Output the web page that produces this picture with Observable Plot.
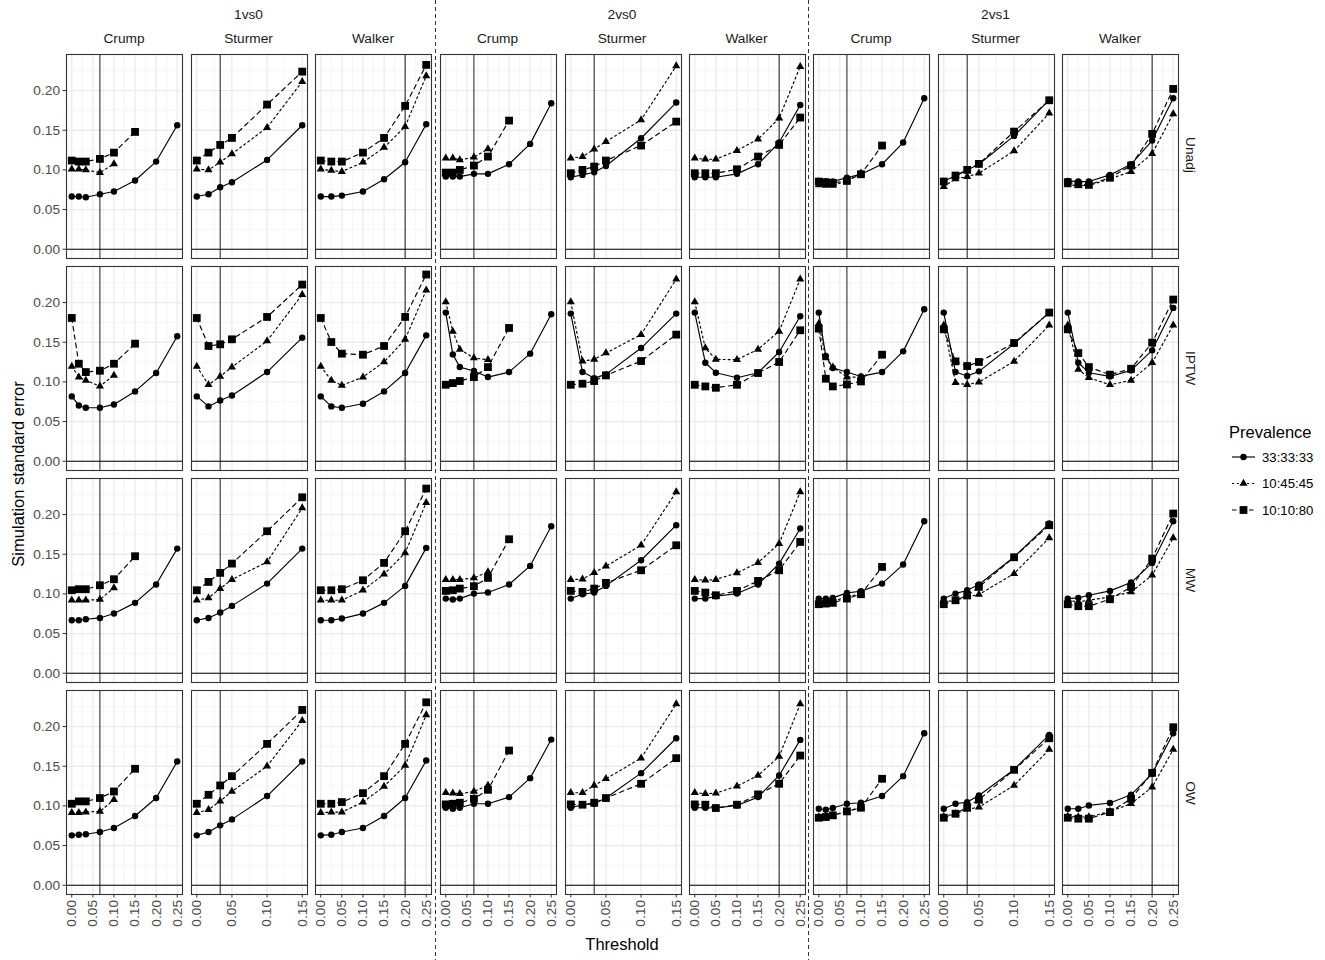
<!DOCTYPE html>
<html><head><meta charset="utf-8">
<script src="https://cdn.jsdelivr.net/npm/d3@7"></script>
<script src="https://cdn.jsdelivr.net/npm/@observablehq/plot@0.6"></script>
<style>
body{margin:0;background:#fff;font-family:"Liberation Sans",Arial,sans-serif;}
#chart{position:relative;width:1325px;height:960px;overflow:hidden;background:#fff}
#chart svg{overflow:visible}
</style></head><body><div id="chart"></div>
<script>
// ---------- categories ----------
const weights = ["Unadj", "IPTW", "MW", "OW"];
const groups = ["1vs0", "2vs0", "2vs1"];
const methods = ["Crump", "Sturmer", "Walker"];
const prevalences = ["33:33:33", "10:45:45", "10:10:80"];
const thresholdsCrump = [0, 0.0167, 0.0333, 0.0667, 0.10, 0.15, 0.20, 0.25];
const thresholdsSturmer = [0, 0.0167, 0.0333, 0.05, 0.10, 0.15];
const thresholdsWalker = [0, 0.025, 0.05, 0.10, 0.15, 0.20, 0.25];
const cutoffs = [0.0667, 0.0333, 0.20]; // Crump, Sturmer, Walker
const ticksWide = [0, 0.05, 0.10, 0.15, 0.20, 0.25];
const ticksNarrow = [0, 0.05, 0.10, 0.15];
const ticksY = [0, 0.05, 0.10, 0.15, 0.20];

// ---------- values: [33:33:33, 10:45:45, 10:10:80] ----------
const U_1vs0_Crump = [[0.0664,0.0664,0.0655,0.0693,0.0727,0.0866,0.1105,0.1563],[0.1008,0.1008,0.1000,0.0966,0.1076],[0.1118,0.1105,0.1105,0.1139,0.1218,0.1479]];
const U_1vs0_Sturmer = [[0.0664,0.0693,0.0782,0.0845,0.1126,0.1563],[0.1008,0.1000,0.1097,0.1202,0.1534,0.2113],[0.1118,0.1218,0.1315,0.1403,0.1824,0.2239]];
const U_1vs0_Walker = [[0.0664,0.0664,0.0676,0.0727,0.0882,0.1097,0.1576],[0.1008,0.0992,0.0979,0.1097,0.1282,0.1546,0.2185],[0.1118,0.1105,0.1105,0.1218,0.1403,0.1807,0.2324]];
const U_2vs0_Crump = [[0.0916,0.0916,0.0916,0.0950,0.0950,0.1071,0.1328,0.1840],[0.1147,0.1147,0.1126,0.1160,0.1265],[0.0966,0.0966,0.1000,0.1055,0.1168,0.1622]];
const U_2vs0_Sturmer = [[0.0908,0.0937,0.0971,0.1050,0.1399,0.1849],[0.1147,0.1168,0.1261,0.1357,0.1630,0.2311],[0.0958,0.1000,0.1042,0.1118,0.1307,0.1609]];
const U_2vs0_Walker = [[0.0908,0.0908,0.0908,0.0950,0.1071,0.1345,0.1819],[0.1147,0.1134,0.1134,0.1244,0.1387,0.1651,0.2303],[0.0958,0.0958,0.0958,0.1008,0.1168,0.1315,0.1660]];
const U_2vs1_Crump = [[0.0861,0.0853,0.0853,0.0903,0.0945,0.1071,0.1345,0.1903],[0.0811,0.0803,0.0803,0.0861,0.0958],[0.0853,0.0845,0.0836,0.0861,0.0945,0.1307]];
const U_2vs1_Sturmer = [[0.0861,0.0924,0.1000,0.1071,0.1429,0.1882],[0.0790,0.0887,0.0916,0.0958,0.1239,0.1714],[0.0853,0.0929,0.1000,0.1076,0.1483,0.1878]];
const U_2vs1_Walker = [[0.0861,0.0853,0.0853,0.0937,0.1071,0.1370,0.1903],[0.0811,0.0803,0.0803,0.0887,0.0979,0.1206,0.1706],[0.0845,0.0819,0.0811,0.0903,0.1055,0.1454,0.2021]];

const I_1vs0_Crump = [[0.0817,0.0703,0.0674,0.0674,0.0716,0.0880,0.1112,0.1575],[0.1196,0.1061,0.1019,0.0947,0.1082],[0.1806,0.1229,0.1124,0.1141,0.1229,0.1482]];
const I_1vs0_Sturmer = [[0.0817,0.0691,0.0766,0.0829,0.1124,0.1558],[0.1196,0.0964,0.1069,0.1187,0.1516,0.2101],[0.1806,0.1453,0.1474,0.1537,0.1819,0.2227]];
const I_1vs0_Walker = [[0.0817,0.0691,0.0674,0.0724,0.0880,0.1112,0.1587],[0.1196,0.1019,0.0956,0.1061,0.1251,0.1537,0.2156],[0.1806,0.1503,0.1356,0.1343,0.1453,0.1819,0.2354]];
const I_2vs0_Crump = [[0.1874,0.1347,0.1187,0.1137,0.1061,0.1124,0.1356,0.1853],[0.2008,0.1638,0.1411,0.1301,0.1280],[0.0964,0.0985,0.1011,0.1061,0.1187,0.1680]];
const I_2vs0_Sturmer = [[0.1861,0.1124,0.1048,0.1095,0.1427,0.1861],[0.2008,0.1263,0.1284,0.1364,0.1596,0.2295],[0.0964,0.0977,0.1011,0.1082,0.1263,0.1596]];
const I_2vs0_Walker = [[0.1874,0.1242,0.1116,0.1053,0.1116,0.1377,0.1827],[0.2008,0.1427,0.1284,0.1280,0.1411,0.1638,0.2295],[0.0964,0.0943,0.0926,0.0964,0.1112,0.1251,0.1651]];
const I_2vs1_Crump = [[0.1874,0.1326,0.1175,0.1124,0.1069,0.1124,0.1385,0.1916],[0.1735,0.1301,0.1187,0.1061,0.1061],[0.1672,0.1040,0.0943,0.0968,0.1006,0.1343]];
const I_2vs1_Sturmer = [[0.1874,0.1124,0.1074,0.1133,0.1482,0.1874],[0.1714,0.0989,0.0964,0.0998,0.1259,0.1714],[0.1663,0.1259,0.1200,0.1251,0.1491,0.1874]];
const I_2vs1_Walker = [[0.1874,0.1242,0.1116,0.1069,0.1145,0.1398,0.1933],[0.1714,0.1158,0.1053,0.0964,0.1019,0.1242,0.1714],[0.1663,0.1364,0.1187,0.1091,0.1166,0.1495,0.2038]];

const M_1vs0_Crump = [[0.0668,0.0668,0.0681,0.0697,0.0752,0.0887,0.1118,0.1571],[0.0920,0.0920,0.0920,0.0929,0.1076],[0.1046,0.1059,0.1059,0.1109,0.1185,0.1475]];
const M_1vs0_Sturmer = [[0.0668,0.0697,0.0765,0.0849,0.1130,0.1571],[0.0920,0.0950,0.1067,0.1181,0.1403,0.2084],[0.1046,0.1151,0.1265,0.1382,0.1790,0.2218]];
const M_1vs0_Walker = [[0.0668,0.0668,0.0689,0.0752,0.0887,0.1101,0.1580],[0.0920,0.0920,0.0920,0.1046,0.1248,0.1517,0.2151],[0.1046,0.1046,0.1059,0.1172,0.1391,0.1790,0.2328]];
const M_2vs0_Crump = [[0.0941,0.0929,0.0941,0.1004,0.1017,0.1118,0.1353,0.1853],[0.1181,0.1181,0.1181,0.1202,0.1277],[0.1038,0.1046,0.1067,0.1097,0.1202,0.1689]];
const M_2vs0_Sturmer = [[0.0941,0.0996,0.1017,0.1101,0.1424,0.1866],[0.1181,0.1185,0.1269,0.1349,0.1613,0.2286],[0.1038,0.1025,0.1067,0.1139,0.1298,0.1613]];
const M_2vs0_Walker = [[0.0941,0.0941,0.0971,0.1004,0.1118,0.1382,0.1824],[0.1181,0.1172,0.1181,0.1265,0.1395,0.1634,0.2286],[0.1038,0.1017,0.0983,0.1038,0.1164,0.1298,0.1655]];
const M_2vs1_Crump = [[0.0941,0.0941,0.0950,0.1013,0.1034,0.1130,0.1370,0.1916],[0.0908,0.0899,0.0908,0.0962,0.1004],[0.0870,0.0878,0.0887,0.0941,0.0996,0.1340]];
const M_2vs1_Sturmer = [[0.0941,0.1004,0.1046,0.1118,0.1466,0.1887],[0.0899,0.0920,0.0962,0.0992,0.1256,0.1706],[0.0870,0.0920,0.0983,0.1088,0.1462,0.1866]];
const M_2vs1_Walker = [[0.0941,0.0950,0.0983,0.1038,0.1143,0.1391,0.1916],[0.0920,0.0899,0.0920,0.0962,0.1025,0.1235,0.1706],[0.0870,0.0845,0.0845,0.0933,0.1088,0.1445,0.2013]];

const O_1vs0_Crump = [[0.0629,0.0637,0.0642,0.0671,0.0721,0.0872,0.1099,0.1560],[0.0914,0.0914,0.0922,0.0931,0.1078],[0.1027,0.1057,0.1057,0.1099,0.1182,0.1468]];
const O_1vs0_Sturmer = [[0.0629,0.0671,0.0755,0.0830,0.1124,0.1560],[0.0914,0.0952,0.1061,0.1182,0.1501,0.2075],[0.1027,0.1140,0.1258,0.1375,0.1782,0.2210]];
const O_1vs0_Walker = [[0.0629,0.0637,0.0671,0.0721,0.0872,0.1099,0.1572],[0.0914,0.0922,0.0922,0.1048,0.1245,0.1509,0.2147],[0.1027,0.1027,0.1048,0.1161,0.1375,0.1782,0.2306]];
const O_2vs0_Crump = [[0.0977,0.0964,0.0977,0.1027,0.1027,0.1111,0.1350,0.1836],[0.1166,0.1161,0.1153,0.1182,0.1258],[0.1019,0.1027,0.1040,0.1090,0.1203,0.1698]];
const O_2vs0_Sturmer = [[0.0977,0.1015,0.1027,0.1099,0.1413,0.1853],[0.1166,0.1166,0.1258,0.1342,0.1602,0.2285],[0.1019,0.1015,0.1040,0.1099,0.1279,0.1602]];
const O_2vs0_Walker = [[0.0977,0.0977,0.0973,0.1006,0.1111,0.1384,0.1832],[0.1166,0.1153,0.1161,0.1249,0.1384,0.1623,0.2285],[0.1019,0.1015,0.0973,0.1015,0.1145,0.1279,0.1635]];
const O_2vs1_Crump = [[0.0964,0.0952,0.0973,0.1027,0.1040,0.1124,0.1375,0.1916],[0.0860,0.0868,0.0881,0.0931,0.0985],[0.0851,0.0860,0.0881,0.0931,0.0977,0.1342]];
const O_2vs1_Sturmer = [[0.0964,0.1027,0.1048,0.1132,0.1459,0.1895],[0.0868,0.0901,0.0956,0.0985,0.1258,0.1711],[0.0851,0.0901,0.0985,0.1078,0.1455,0.1853]];
const O_2vs1_Walker = [[0.0964,0.0964,0.1006,0.1036,0.1140,0.1405,0.1916],[0.0868,0.0860,0.0860,0.0931,0.1027,0.1237,0.1711],[0.0851,0.0839,0.0839,0.0922,0.1090,0.1417,0.1992]];

// ---------- assemble ----------
const tables = [
  ["Unadj","1vs0","Crump",U_1vs0_Crump],["Unadj","1vs0","Sturmer",U_1vs0_Sturmer],["Unadj","1vs0","Walker",U_1vs0_Walker],
  ["Unadj","2vs0","Crump",U_2vs0_Crump],["Unadj","2vs0","Sturmer",U_2vs0_Sturmer],["Unadj","2vs0","Walker",U_2vs0_Walker],
  ["Unadj","2vs1","Crump",U_2vs1_Crump],["Unadj","2vs1","Sturmer",U_2vs1_Sturmer],["Unadj","2vs1","Walker",U_2vs1_Walker],
  ["IPTW","1vs0","Crump",I_1vs0_Crump],["IPTW","1vs0","Sturmer",I_1vs0_Sturmer],["IPTW","1vs0","Walker",I_1vs0_Walker],
  ["IPTW","2vs0","Crump",I_2vs0_Crump],["IPTW","2vs0","Sturmer",I_2vs0_Sturmer],["IPTW","2vs0","Walker",I_2vs0_Walker],
  ["IPTW","2vs1","Crump",I_2vs1_Crump],["IPTW","2vs1","Sturmer",I_2vs1_Sturmer],["IPTW","2vs1","Walker",I_2vs1_Walker],
  ["MW","1vs0","Crump",M_1vs0_Crump],["MW","1vs0","Sturmer",M_1vs0_Sturmer],["MW","1vs0","Walker",M_1vs0_Walker],
  ["MW","2vs0","Crump",M_2vs0_Crump],["MW","2vs0","Sturmer",M_2vs0_Sturmer],["MW","2vs0","Walker",M_2vs0_Walker],
  ["MW","2vs1","Crump",M_2vs1_Crump],["MW","2vs1","Sturmer",M_2vs1_Sturmer],["MW","2vs1","Walker",M_2vs1_Walker],
  ["OW","1vs0","Crump",O_1vs0_Crump],["OW","1vs0","Sturmer",O_1vs0_Sturmer],["OW","1vs0","Walker",O_1vs0_Walker],
  ["OW","2vs0","Crump",O_2vs0_Crump],["OW","2vs0","Sturmer",O_2vs0_Sturmer],["OW","2vs0","Walker",O_2vs0_Walker],
  ["OW","2vs1","Crump",O_2vs1_Crump],["OW","2vs1","Sturmer",O_2vs1_Sturmer],["OW","2vs1","Walker",O_2vs1_Walker]
];
const thresholds = {Crump: thresholdsCrump, Sturmer: thresholdsSturmer, Walker: thresholdsWalker};
const records = [];
for (const [w, g, m, arrs] of tables) {
  arrs.forEach((vals, k) => vals.forEach((v, i) => records.push({weight: w, group: g, method: m, prev: prevalences[k], x: thresholds[m][i], y: v})));
}

// ---------- layout ----------
const chart = document.getElementById("chart");
const W = 1325, H = 960;
const top0 = 53, bottom0 = 895;
const firstLeft = 66, pitch = 124.5, panelW = 116;
const padInner = 0.04;
const yDomain = [-0.0117, 0.2455];
const symbols = ["circle", "triangle", "square"];
const radii = [3.2, 3.0, 4.4];
const dashes = [null, "2,3", "4.5,4"];
const font = "'Liberation Sans', Arial, sans-serif";
const gridMinor = "#F2F2F2", gridMajor = "#EBEBEB";

for (let c = 0; c < 9; c++) {
  const g = groups[Math.floor(c / 3)];
  const mi = c % 3, m = methods[mi];
  const xs = thresholds[m];
  const xmax = d3.max(xs);
  const majX = mi === 1 ? ticksNarrow : ticksWide;
  const minX = majX.slice(0, -1).map((t, i) => (t + majX[i + 1]) / 2);
  const minY = ticksY.map((t, i) => ticksY[i + 1] !== undefined ? (t + ticksY[i + 1]) / 2 : t + 0.025);
  const data = records.filter(d => d.group === g && d.method === m);
  const panelLeft = firstLeft + c * pitch + (c >= 3 ? 0.5 : 0) - (c >= 6 ? 0.5 : 0);
  const mL = c === 0 ? panelLeft : 10, mR = 10;
  const marks = [
    Plot.ruleX(minX, {stroke: gridMinor, strokeWidth: 0.7}),
    Plot.ruleY(minY, {stroke: gridMinor, strokeWidth: 0.7}),
    Plot.ruleX(majX, {stroke: gridMajor, strokeWidth: 1.3}),
    Plot.ruleY(ticksY, {stroke: gridMajor, strokeWidth: 1.3}),
    Plot.ruleY([0], {stroke: "#000", strokeWidth: 1.1}),
    Plot.ruleX([cutoffs[mi]], {stroke: "#000", strokeWidth: 0.9})
  ];
  prevalences.forEach((p, k) => {
    marks.push(Plot.line(data.filter(d => d.prev === p), {x: "x", y: "y", fy: "weight", stroke: "#000", strokeWidth: 1.15, strokeDasharray: dashes[k]}));
  });
  prevalences.forEach((p, k) => {
    marks.push(Plot.dot(data.filter(d => d.prev === p), {x: "x", y: "y", fy: "weight", symbol: symbols[k], r: radii[k], fill: "#000", stroke: "none"}));
  });
  marks.push(Plot.frame({stroke: "#333", strokeWidth: 1.1}));
  marks.push(Plot.axisX({ticks: majX, tickFormat: d3.format(".2f"), tickRotate: -90, tickSize: 3.5, tickPadding: 2, label: null, fontSize: 13.7, fill: "#4D4D4D", stroke: "#333"}));
  if (c === 0) marks.push(Plot.axisY({ticks: ticksY, tickFormat: d3.format(".2f"), tickSize: 3.5, tickPadding: 3, label: null, fontSize: 13.7, fill: "#4D4D4D", stroke: "#333"}));
  const p = Plot.plot({
    width: mL + panelW + mR, height: H,
    marginLeft: mL, marginRight: mR, marginTop: top0, marginBottom: H - bottom0,
    facet: {marginTop: 0, marginRight: 0, marginBottom: 0, marginLeft: 0},
    x: {domain: [-0.05 * xmax, 1.05 * xmax], axis: null},
    y: {domain: yDomain, axis: null},
    fy: {domain: weights, paddingInner: padInner, paddingOuter: 0, axis: null},
    style: {fontFamily: font, background: "transparent", overflow: "visible"},
    marks
  });
  p.style.position = "absolute";
  p.style.left = (panelLeft - mL) + "px";
  p.style.top = "0px";
  p.style.maxWidth = "none";
  chart.appendChild(p);
}

// ---------- text labels ----------
function addText(txt, x, y, size, color, rot) {
  const d = document.createElement("div");
  d.textContent = txt;
  d.style.cssText = `position:absolute;left:${x}px;top:${y}px;transform:translate(-50%,-50%)${rot ? ` rotate(${rot}deg)` : ""};font-size:${size}px;color:${color};white-space:nowrap;line-height:1;font-family:${font};`;
  chart.appendChild(d);
}
for (let gi = 0; gi < 3; gi++) {
  const l = firstLeft + gi * 3 * pitch, r = l + 2 * pitch + panelW;
  addText(groups[gi], (l + r) / 2, 15, 13.7, "#1A1A1A");
}
for (let c = 0; c < 9; c++) {
  const panelLeft = firstLeft + c * pitch;
  addText(methods[c % 3], panelLeft + panelW / 2, 39, 13.7, "#1A1A1A");
}
const step = (bottom0 - top0) / (weights.length - padInner);
weights.forEach((w, i) => {
  addText(w, 1190, top0 + i * step + step * (1 - padInner) / 2, 13.7, "#1A1A1A", 90);
});
addText("Threshold", 622, 944, 16.5, "#000");
addText("Simulation standard error", 18, 474, 16.5, "#000", -90);

// ---------- overlay: separators + legend ----------
const svg = d3.select(chart).append("svg")
  .attr("width", W).attr("height", H)
  .style("position", "absolute").style("left", 0).style("top", 0).style("pointer-events", "none");
[435.5, 808.5].forEach(x => svg.append("line").attr("x1", x).attr("x2", x).attr("y1", 0).attr("y2", H)
  .attr("stroke", "#333").attr("stroke-width", 1).attr("stroke-dasharray", "4,3"));
const lg = svg.append("g").attr("font-family", font);
lg.append("text").attr("x", 1229).attr("y", 438).attr("font-size", 16.5).attr("fill", "#000").text("Prevalence");
const d3sym = {circle: d3.symbolCircle, triangle: d3.symbolTriangle, square: d3.symbolSquare};
prevalences.forEach((p, k) => {
  const y = 457 + k * 26.5;
  lg.append("line").attr("x1", 1232).attr("x2", 1255).attr("y1", y).attr("y2", y)
    .attr("stroke", "#000").attr("stroke-width", 1.15).attr("stroke-dasharray", dashes[k]);
  lg.append("path").attr("transform", `translate(1243.5,${y})`)
    .attr("d", d3.symbol(d3sym[symbols[k]], Math.PI * radii[k] * radii[k])()).attr("fill", "#000");
  lg.append("text").attr("x", 1262).attr("y", y + 4.7).attr("font-size", 13.2).attr("fill", "#000").text(p);
});
</script></body></html>
